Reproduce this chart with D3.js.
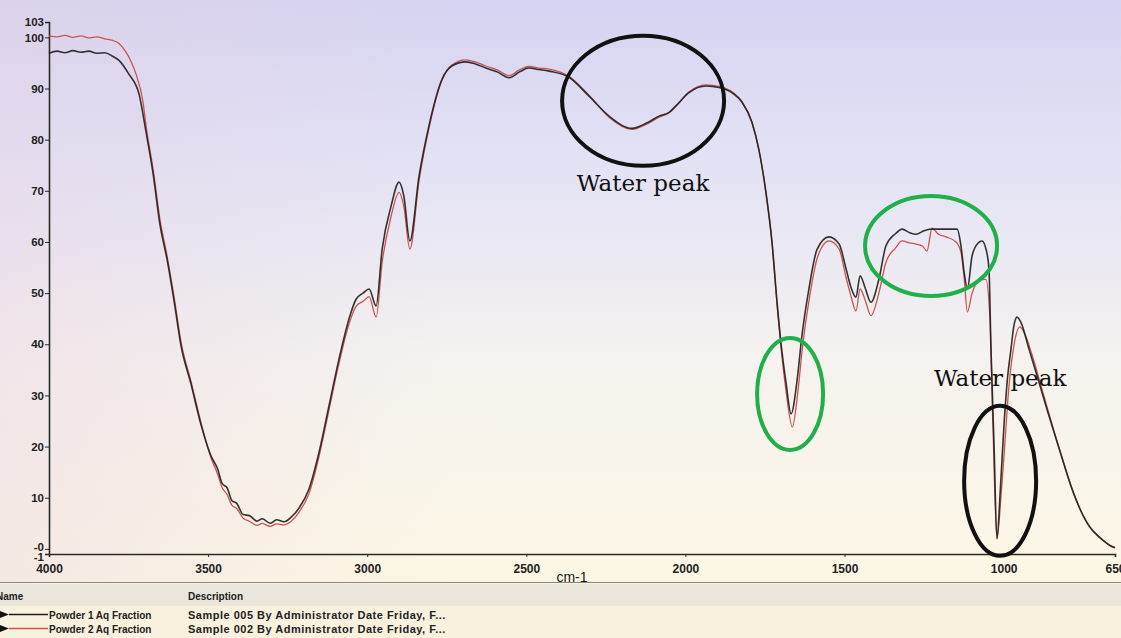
<!DOCTYPE html>
<html>
<head>
<meta charset="utf-8">
<script src="https://cdnjs.cloudflare.com/ajax/libs/d3/7.8.5/d3.min.js"></script>
<style>
  html, body { margin: 0; padding: 0; overflow: hidden; background: #f8f2e2; }
</style>
</head>
<body>
<script>
(function() {

  // axis ticks
  const xTicks = [4000, 3500, 3000, 2500, 2000, 1500, 1000, 650];
  const yTicks = [103, 100, 90, 80, 70, 60, 50, 40, 30, 20, 10, 0, -1];
  const yTickLabels = ["103", "100", "90", "80", "70", "60", "50", "40", "30", "20", "10", "-0", "-1"];

  // [wavenumber cm-1, %T]
  const powder1 = [
    [4000, 96.9], [3975, 97.3], [3950, 97.0], [3925, 97.4], [3900, 97.1], [3875, 97.3],
    [3850, 96.9], [3825, 97.0], [3800, 96.3], [3780, 95.5], [3750, 92.9], [3717, 88.9],
    [3695, 81.5], [3673, 73.4], [3651, 63.3], [3629, 56.6], [3607, 48.5], [3585, 39.7],
    [3554, 32.3], [3522, 24.2], [3491, 18.2], [3470, 15.6], [3456, 12.8], [3440, 11.9],
    [3425, 9.4], [3410, 8.9], [3390, 6.7], [3370, 6.5], [3346, 5.4], [3330, 5.9],
    [3305, 5.0], [3285, 5.7], [3261, 5.3], [3239, 6.2], [3214, 8.0], [3183, 11.7],
    [3151, 19.0], [3120, 28.0], [3089, 37.0], [3057, 45.0], [3035, 48.8], [3013, 50.0],
    [2994, 50.8], [2972, 47.5], [2953, 58.6], [2925, 67.0], [2900, 71.7], [2885, 69.0],
    [2866, 60.2], [2837, 72.9], [2806, 82.7], [2765, 91.8], [2734, 94.4], [2690, 95.2],
    [2660, 94.8], [2627, 94.0], [2590, 93.2], [2554, 92.1], [2520, 93.3], [2492, 94.0],
    [2460, 93.7], [2429, 93.4], [2366, 92.2], [2303, 88.5], [2240, 84.6], [2168, 82.2],
    [2120, 83.3], [2083, 84.6], [2050, 85.4], [2030, 86.6], [1989, 89.2], [1935, 90.5],
    [1894, 90.2], [1850, 89.0], [1822, 87.3], [1791, 83.4], [1769, 78.0], [1747, 69.7],
    [1728, 60.0], [1712, 48.2], [1700, 40.4], [1684, 32.6], [1668, 26.4], [1649, 33.0],
    [1634, 41.6], [1612, 50.8], [1586, 58.6], [1549, 61.0], [1517, 59.6], [1495, 54.7],
    [1480, 51.2], [1464, 49.2], [1451, 53.4], [1435, 51.0], [1417, 48.2], [1392, 52.7],
    [1370, 59.2], [1340, 61.6], [1319, 62.5], [1295, 61.8], [1275, 61.5], [1250, 62.2],
    [1228, 62.5], [1181, 62.5], [1146, 62.5], [1134, 59.2], [1124, 54.0], [1114, 50.8],
    [1099, 57.3], [1080, 59.8], [1068, 60.2], [1055, 58.5], [1046, 54.7], [1040, 39.7],
    [1030, 20.0], [1021, 2.0], [1010, 12.0], [999, 24.0], [989, 32.6], [977, 39.0],
    [968, 43.5], [958, 45.3], [945, 44.2], [920, 39.0], [889, 32.6], [860, 26.5],
    [835, 21.5], [810, 16.5], [785, 11.7], [760, 7.8], [732, 4.5], [705, 2.6],
    [684, 1.5], [665, 0.6], [650, 0.2]
  ];

  const powder2 = [
    [4000, 100.3], [3975, 100.1], [3950, 100.4], [3925, 100.0], [3900, 100.3], [3875, 99.9],
    [3850, 100.1], [3825, 99.7], [3800, 99.4], [3780, 98.8], [3759, 97.2], [3740, 95.0],
    [3727, 92.9], [3705, 87.5], [3693, 81.8], [3673, 74.3], [3651, 64.3], [3629, 57.3],
    [3607, 49.3], [3585, 40.4], [3554, 32.8], [3522, 24.6], [3491, 17.8], [3470, 14.6],
    [3456, 12.0], [3440, 10.6], [3425, 8.5], [3410, 7.9], [3390, 6.0], [3370, 5.4],
    [3346, 4.6], [3330, 5.0], [3305, 4.4], [3285, 4.9], [3261, 4.7], [3239, 5.4],
    [3214, 7.2], [3183, 10.8], [3151, 18.2], [3120, 27.2], [3089, 36.2], [3057, 44.0],
    [3035, 47.4], [3013, 48.4], [2994, 49.3], [2972, 45.3], [2953, 56.0], [2925, 65.0],
    [2900, 69.7], [2885, 67.0], [2866, 58.6], [2837, 72.0], [2806, 82.2], [2765, 91.6],
    [2734, 94.6], [2690, 95.6], [2660, 95.2], [2627, 94.4], [2590, 93.6], [2554, 92.5],
    [2520, 93.7], [2492, 94.3], [2460, 94.0], [2429, 93.8], [2366, 92.4], [2303, 88.7],
    [2240, 84.4], [2168, 82.0], [2120, 83.1], [2083, 84.4], [2050, 85.3], [2030, 86.5],
    [1989, 89.3], [1935, 90.7], [1894, 90.4], [1850, 89.2], [1822, 87.4], [1791, 83.4],
    [1769, 78.0], [1747, 69.7], [1728, 60.0], [1712, 47.8], [1700, 39.6], [1684, 31.0],
    [1664, 23.8], [1647, 30.5], [1632, 39.5], [1610, 49.2], [1584, 57.2], [1549, 60.2],
    [1517, 58.6], [1495, 53.0], [1480, 49.5], [1464, 46.5], [1451, 50.8], [1435, 48.6],
    [1417, 45.6], [1392, 50.0], [1370, 56.0], [1340, 58.8], [1319, 60.2], [1295, 59.8],
    [1275, 59.6], [1255, 59.2], [1241, 58.2], [1225, 62.7], [1205, 61.5], [1181, 61.0],
    [1150, 60.0], [1134, 58.0], [1124, 53.0], [1114, 46.3], [1099, 50.0], [1077, 52.5],
    [1056, 52.7], [1043, 45.0], [1034, 25.0], [1021, 2.0], [1008, 10.5], [999, 18.0],
    [983, 32.0], [967, 40.0], [949, 43.4], [930, 41.5], [911, 38.0], [874, 30.0],
    [827, 20.0], [778, 10.5], [750, 6.5], [725, 4.0], [700, 2.4], [684, 1.5],
    [665, 0.7], [650, 0.3]
  ];

  const seriesNames = ["Powder 1 Aq Fraction", "Powder 2 Aq Fraction"];
  const seriesDescriptions = [
    "Sample 005 By Administrator Date Friday, F...",
    "Sample 002 By Administrator Date Friday, F..."
  ];
  const seriesColors = ["#1e1e1e", "#c9534f"];

  // hand-drawn marks on the photo (centre in data units, radii in px)
  const circleNotes = [
    { wn: 2133, t: 87.6, rx: 81, ry: 65, color: "#111111" },
    { wn: 1671, t: 30.3, rx: 33, ry: 56, color: "#20b04a" },
    { wn: 1228, t: 59.2, rx: 66, ry: 50, color: "#20b04a" },
    { wn: 1011, t: 13.3, rx: 36, ry: 75, color: "#111111" }
  ];
  const textNotes = [
    { wn: 2133, t: 70.0, label: "Water peak" },
    { wn: 1011, t: 31.8, label: "Water peak" }
  ];

  const W = 1121, H = 638;

  const svg = d3.select("body")
    .append("svg")
    .attr("width", W)
    .attr("height", H);

  // photo-of-screen background
  const defs = svg.append("defs");
  const grad = defs.append("linearGradient")
    .attr("id", "bg")
    .attr("x1", 0).attr("y1", 0).attr("x2", 0).attr("y2", 1);
  grad.append("stop").attr("offset", "0%").attr("stop-color", "#d5d3f1");
  grad.append("stop").attr("offset", "30%").attr("stop-color", "#e4e3f5");
  grad.append("stop").attr("offset", "62%").attr("stop-color", "#f5f2ef");
  grad.append("stop").attr("offset", "100%").attr("stop-color", "#fcf7e4");

  const gradL = defs.append("linearGradient")
    .attr("id", "bgl")
    .attr("x1", 0).attr("y1", 0).attr("x2", 1).attr("y2", 0);
  gradL.append("stop").attr("offset", "0%").attr("stop-color", "#e8cfe0").attr("stop-opacity", 0.35);
  gradL.append("stop").attr("offset", "40%").attr("stop-color", "#e8cfe0").attr("stop-opacity", 0);

  svg.append("rect").attr("width", W).attr("height", 582).attr("fill", "url(#bg)");
  svg.append("rect").attr("width", W).attr("height", 582).attr("fill", "url(#bgl)");

  // bottom table
  svg.append("rect").attr("y", 582).attr("width", W).attr("height", H - 582).attr("fill", "#f8f1de");
  svg.append("rect").attr("y", 584).attr("width", W).attr("height", 22).attr("fill", "#ebe6dc");
  svg.append("line").attr("x1", 0).attr("x2", W).attr("y1", 582.5).attr("y2", 582.5)
    .attr("stroke", "#8c877d").attr("stroke-width", 1.2);

  const xScale = d3.scaleLinear().domain([4000, 650]).range([49, 1115]);
  const yScale = d3.scaleLinear().domain([-1, 103]).range([554, 22]);

  const tickFont = "600 12px 'Liberation Sans', Arial, sans-serif";

  // x axis
  const xAxis = d3.axisBottom(xScale)
    .tickValues(xTicks)
    .tickSize(3)
    .tickFormat(d3.format("d"));
  const gx = svg.append("g")
    .attr("transform", "translate(0, 554)")
    .call(xAxis);
  gx.select(".domain").attr("stroke", "#2a2a2a").attr("stroke-width", 1.6);
  gx.selectAll(".tick line").attr("stroke", "#2a2a2a");
  gx.selectAll(".tick text")
    .attr("dy", "1.05em")
    .attr("fill", "#222")
    .style("font", tickFont);

  svg.append("text")
    .attr("x", 572).attr("y", 582)
    .attr("text-anchor", "middle")
    .attr("fill", "#1a1a1a")
    .style("font", "14px 'Liberation Sans', Arial, sans-serif")
    .text("cm-1");

  // y axis
  const yAxis = d3.axisLeft(yScale)
    .tickValues(yTicks)
    .tickSize(4)
    .tickPadding(1)
    .tickFormat((d, i) => yTickLabels[i]);
  const gy = svg.append("g")
    .attr("transform", "translate(49, 0)")
    .call(yAxis);
  gy.select(".domain").attr("stroke", "#2a2a2a").attr("stroke-width", 1.6);
  gy.selectAll(".tick line").attr("stroke", "#2a2a2a");
  gy.selectAll(".tick text")
    .attr("fill", "#222")
    .style("font", "600 11.5px 'Liberation Sans', Arial, sans-serif");
  // the two bottom labels sit almost on top of each other in the original
  gy.selectAll(".tick text").filter((d) => d === 0).attr("dy", "0.1em");
  gy.selectAll(".tick text").filter((d) => d === -1).attr("dy", "0.6em");

  // spectra
  const line = d3.line()
    .x(d => xScale(d[0]))
    .y(d => yScale(d[1]))
    .curve(d3.curveMonotoneX);

  svg.append("path")
    .datum(powder2)
    .attr("d", line)
    .attr("fill", "none")
    .attr("stroke", seriesColors[1])
    .attr("stroke-width", 1.3);

  svg.append("path")
    .datum(powder1)
    .attr("d", line)
    .attr("fill", "none")
    .attr("stroke", seriesColors[0])
    .attr("stroke-width", 1.6)
    .attr("stroke-opacity", 0.9);

  // annotations
  svg.selectAll(".note")
    .data(circleNotes)
    .enter()
    .append("ellipse")
    .attr("class", "note")
    .attr("cx", d => xScale(d.wn))
    .attr("cy", d => yScale(d.t))
    .attr("rx", d => d.rx)
    .attr("ry", d => d.ry)
    .attr("fill", "none")
    .attr("stroke", d => d.color)
    .attr("stroke-width", 4);

  svg.selectAll(".noteText")
    .data(textNotes)
    .enter()
    .append("text")
    .attr("class", "noteText")
    .attr("x", d => xScale(d.wn))
    .attr("y", d => yScale(d.t))
    .attr("text-anchor", "middle")
    .attr("fill", "#111")
    .style("font", "23px 'DejaVu Serif', 'Liberation Serif', serif")
    .text(d => d.label);

  // legend table
  const tableFont = "600 10px 'Liberation Sans', Arial, sans-serif";
  const descFont = "600 11px 'Liberation Sans', Arial, sans-serif";
  svg.append("text").attr("x", -4).attr("y", 600).attr("fill", "#222")
    .style("font", tableFont).text("Name");
  svg.append("text").attr("x", 188).attr("y", 600).attr("fill", "#222")
    .style("font", tableFont).text("Description");

  const rows = svg.selectAll(".row")
    .data(seriesNames)
    .enter()
    .append("g")
    .attr("class", "row")
    .attr("transform", (d, i) => "translate(0," + (615 + i * 14) + ")");

  rows.append("path")
    .attr("d", "M0,-4 L9,-0.5 L0,3 Z")
    .attr("fill", "#111");
  rows.append("line")
    .attr("x1", 9).attr("x2", 48)
    .attr("y1", -0.5).attr("y2", -0.5)
    .attr("stroke", (d, i) => seriesColors[i])
    .attr("stroke-width", 1.4);
  rows.append("text")
    .attr("x", 49).attr("y", 3.5)
    .attr("fill", "#222")
    .style("font", tableFont)
    .text(d => d);
  rows.append("text")
    .attr("x", 188).attr("y", 3.5)
    .attr("fill", "#222")
    .style("font", descFont)
    .style("letter-spacing", "0.5px")
    .text((d, i) => seriesDescriptions[i]);

})();
</script>
</body>
</html>
